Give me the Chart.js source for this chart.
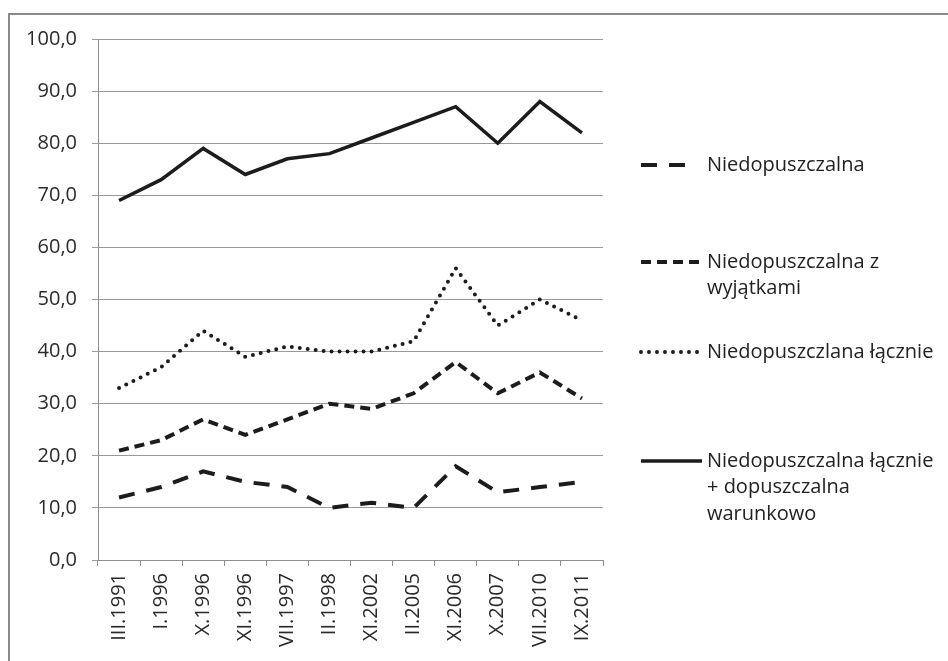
<!DOCTYPE html>
<html>
<head>
<meta charset="utf-8">
<script src="https://cdn.jsdelivr.net/npm/chart.js@4/dist/chart.umd.min.js"></script>
<style>
  html, body { margin: 0; padding: 0; background: #fff; }
  #wrap { width: 948px; height: 661px; position: relative; }
</style>
</head>
<body>
<div id="wrap"><canvas id="wykres"></canvas></div>
<script>
// dane
const okresy = ["III.1991", "I.1996", "X.1996", "XI.1996", "VII.1997", "II.1998",
  "XI.2002", "II.2005", "XI.2006", "X.2007", "VII.2010", "IX.2011"];
const niedopuszczalna = [12, 14, 17, 15, 14, 10, 11, 10, 18, 13, 14, 15];
const zWyjatkami = [21, 23, 27, 24, 27, 30, 29, 32, 38, 32, 36, 31];
const lacznie = [33, 37, 44, 39, 41, 40, 40, 42, 56, 45, 50, 46];
const lacznieWarunkowo = [69, 73, 79, 74, 77, 78, 81, 84, 87, 80, 88, 82];
const nazwy = [
  ["Niedopuszczalna"],
  ["Niedopuszczalna z", "wyjątkami"],
  ["Niedopuszczlana łącznie"],
  ["Niedopuszczalna łącznie", "+ dopuszczalna", "warunkowo"]
];
const osY = [0, 10, 20, 30, 40, 50, 60, 70, 80, 90, 100];

const czcionka = "'Open Sans', sans-serif";
const kolorLinii = "#1c1c1c";

// ramka wokół wykresu (tylko lewa i górna krawędź widoczna)
const ramka = {
  id: "ramka",
  beforeDraw(chart) {
    const c = chart.ctx;
    c.save();
    c.fillStyle = "#fff";
    c.fillRect(0, 0, chart.width, chart.height);
    c.strokeStyle = "#8a8a8a";
    c.lineWidth = 2;
    c.beginPath();
    c.moveTo(9, chart.height);
    c.lineTo(9, 14);
    c.lineTo(chart.width, 14);
    c.stroke();
    c.restore();
  }
};

// legenda po prawej stronie
const legenda = {
  id: "legenda",
  afterDraw(chart) {
    const c = chart.ctx;
    const pozycje = [165, 262, 352, 461];
    c.save();
    chart.data.datasets.forEach((ds, i) => {
      const y = pozycje[i];
      c.strokeStyle = ds.borderColor;
      c.lineWidth = ds.borderWidth;
      c.lineCap = ds.borderCapStyle || "butt";
      c.setLineDash(ds.borderDash || []);
      c.beginPath();
      c.moveTo(641, y);
      c.lineTo(ds.probkaKoniec, y);
      c.stroke();
      c.setLineDash([]);
      c.fillStyle = "#222";
      c.font = "20px " + czcionka;
      c.textBaseline = "middle";
      c.textAlign = "left";
      ds.label.forEach((t, j) => c.fillText(t, 707, y + j * 26.5));
    });
    c.restore();
  }
};

const ctx = document.getElementById("wykres");
new Chart(ctx, {
  type: "line",
  data: {
    labels: okresy,
    datasets: [
      {
        label: nazwy[0],
        data: niedopuszczalna,
        borderColor: kolorLinii,
        borderWidth: 4,
        borderDash: [16, 12],
        probkaKoniec: 686,
      },
      {
        label: nazwy[1],
        data: zWyjatkami,
        borderColor: kolorLinii,
        borderWidth: 4,
        borderDash: [10, 6],
        probkaKoniec: 702,
      },
      {
        label: nazwy[2],
        data: lacznie,
        borderColor: kolorLinii,
        borderWidth: 4,
        borderDash: [0, 8],
        borderCapStyle: "round",
        probkaKoniec: 700,
      },
      {
        label: nazwy[3],
        data: lacznieWarunkowo,
        borderColor: kolorLinii,
        borderWidth: 3.5,
        probkaKoniec: 702,
      },
    ],
  },
  options: {
    responsive: true,
    maintainAspectRatio: false,
    animation: false,
    layout: { padding: { top: 39, right: 345, left: 0, bottom: 0 } },
    elements: { point: { radius: 0 }, line: { tension: 0 } },
    scales: {
      x: {
        offset: true,
        afterFit: (s) => { s.height = 101; },
        grid: {
          offset: true,
          drawOnChartArea: false,
          drawTicks: true,
          tickLength: 6,
          color: "#8f8f8f",
        },
        border: { color: "#8f8f8f" },
        ticks: {
          minRotation: 90,
          maxRotation: 90,
          autoSkip: false,
          padding: 7,
          color: "#2a2a2a",
          font: { family: czcionka, size: 20 },
        },
      },
      y: {
        min: 0,
        max: 100,
        afterFit: (s) => { s.width = 98; },
        afterBuildTicks: (s) => { s.ticks = osY.map((v) => ({ value: v })); },
        grid: { color: "#9a9a9a", tickLength: 6, lineWidth: 1 },
        border: { color: "#8f8f8f" },
        ticks: {
          padding: 15,
          color: "#2a2a2a",
          font: { family: czcionka, size: 20 },
          callback: (v) => v.toFixed(1).replace(".", ","),
        },
      },
    },
    plugins: {
      legend: { display: false },
      tooltip: { enabled: false },
    },
  },
  plugins: [ramka, legenda],
});
</script>
</body>
</html>
